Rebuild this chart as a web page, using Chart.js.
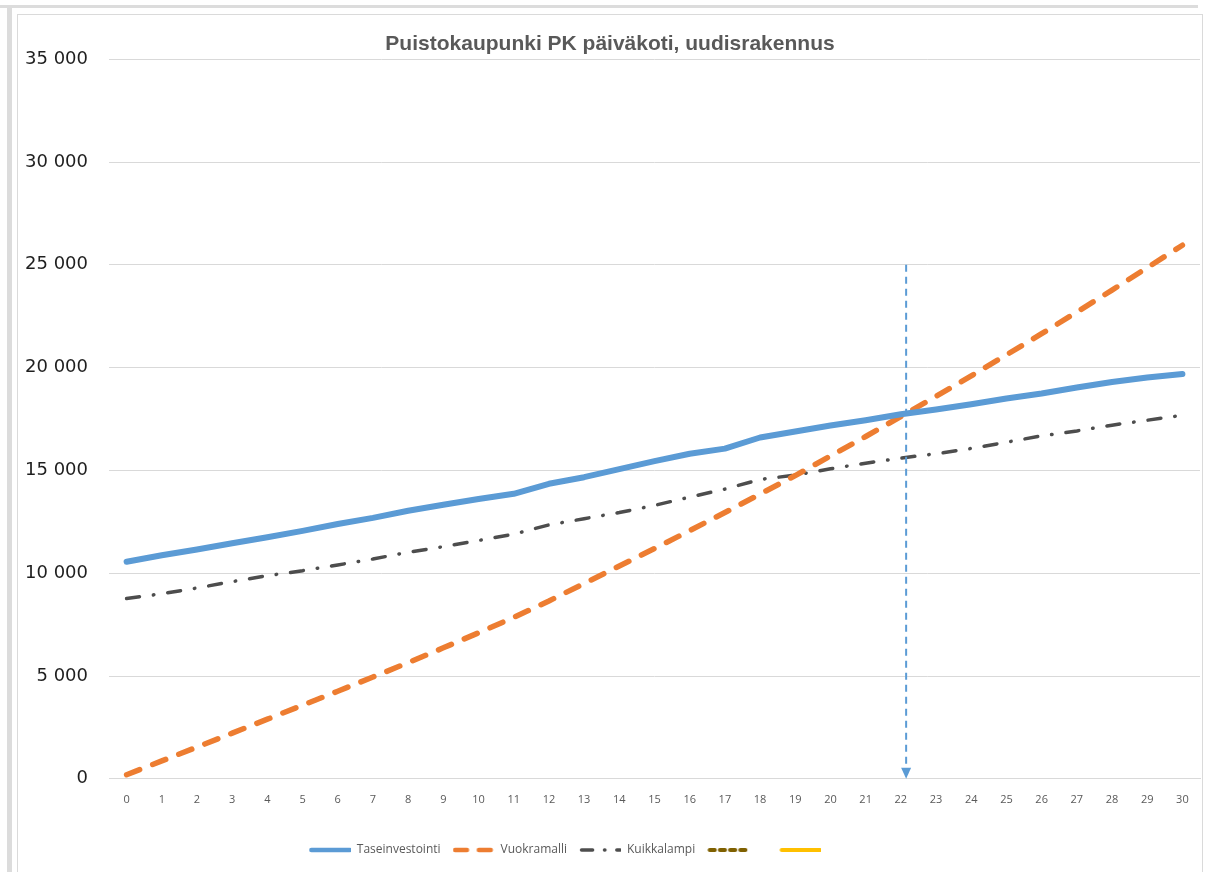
<!DOCTYPE html>
<html>
<head>
<meta charset="utf-8">
<script src="https://cdn.jsdelivr.net/npm/chart.js@4/dist/chart.umd.min.js"></script>
<style>
  body { margin: 0; background: #fff; }
  #wrap { position: relative; width: 1206px; height: 872px; overflow: hidden; }
  .band { position: absolute; background: #dcdcdc; }
  #frame { position: absolute; left: 17px; top: 14px; width: 1184px; height: 900px; border: 1px solid #dadada; }
  canvas { position: absolute; left: 0; top: 0; }
</style>
</head>
<body>
<div id="wrap">
  <div class="band" style="left:0;top:5px;width:1198px;height:3px"></div>
  <div class="band" style="left:7px;top:5px;width:5px;height:872px"></div>
  <div id="frame"></div>
  <canvas id="chart" width="1206" height="872"></canvas>
</div>
<script>
// years 0..30
const years = ['0','1','2','3','4','5','6','7','8','9','10','11','12','13','14','15','16','17','18','19','20','21','22','23','24','25','26','27','28','29','30'];

const taseinvestointi = [10560, 10870, 11150, 11460, 11750, 12060, 12390, 12690, 13040, 13330, 13610, 13860, 14350, 14670, 15060, 15450, 15810, 16060, 16600, 16890, 17180, 17440, 17730, 17960, 18220, 18500, 18740, 19030, 19300, 19520, 19690];
const vuokramalli = [200, 870, 1540, 2220, 2900, 3580, 4260, 4950, 5650, 6370, 7100, 7850, 8650, 9500, 10350, 11200, 12070, 12950, 13850, 14750, 15700, 16650, 17620, 18600, 19600, 20620, 21650, 22700, 23770, 24860, 25950];
const kuikkalampi = [8770, 9000, 9280, 9590, 9880, 10120, 10400, 10690, 11020, 11290, 11590, 11900, 12350, 12650, 12950, 13300, 13700, 14090, 14560, 14770, 15080, 15350, 15600, 15810, 16070, 16370, 16680, 16920, 17200, 17440, 17680];

const yTicks = [0, 5000, 10000, 15000, 20000, 25000, 30000, 35000];

// crossover marker (year, top value)
const markerYear = 22.15;
const markerTop = 25000;

function fmt(v) {
  return String(v).replace(/\B(?=(\d{3})+(?!\d))/g, ' ');
}

// small canvas used as the legend symbol, so the dash pattern shows
function legendIcon(color, width, dash) {
  const c = document.createElement('canvas');
  c.width = 42;
  c.height = 10;
  const g = c.getContext('2d');
  g.strokeStyle = color;
  g.lineWidth = width;
  g.lineCap = 'round';
  g.setLineDash(dash);
  g.beginPath();
  g.moveTo(2.5, 5);
  g.lineTo(41, 5);
  g.stroke();
  return c;
}

const markerPlugin = {
  id: 'marker',
  afterDatasetsDraw(chart) {
    const ctx = chart.ctx;
    const xs = chart.scales.x, ys = chart.scales.y;
    const x = xs.getPixelForValue(markerYear);
    const top = ys.getPixelForValue(markerTop);
    const bottom = ys.getPixelForValue(0);
    ctx.save();
    ctx.strokeStyle = '#5B9BD5';
    ctx.fillStyle = '#5B9BD5';
    ctx.lineWidth = 2;
    ctx.setLineDash([7, 5]);
    ctx.beginPath();
    ctx.moveTo(x, top);
    ctx.lineTo(x, bottom - 10);
    ctx.stroke();
    ctx.setLineDash([]);
    ctx.beginPath();
    ctx.moveTo(x - 5, bottom - 11);
    ctx.lineTo(x + 5, bottom - 11);
    ctx.lineTo(x, bottom);
    ctx.closePath();
    ctx.fill();
    ctx.restore();
  }
};

const ctx = document.getElementById('chart');
const chart = new Chart(ctx, {
  type: 'line',
  data: {
    labels: years,
    datasets: [
      { label: 'Taseinvestointi', data: taseinvestointi, borderColor: '#5B9BD5', borderWidth: 6, borderCapStyle: 'round', borderJoinStyle: 'round' },
      { label: 'Vuokramalli', data: vuokramalli, borderColor: '#ED7D31', borderWidth: 5.5, borderDash: [14, 14], borderCapStyle: 'round' },
      { label: 'Kuikkalampi', data: kuikkalampi, borderColor: '#4D4D4D', borderWidth: 3.5, borderDash: [13, 14, 0.5, 14], borderCapStyle: 'round' },
      { label: '\u2002\u2002', data: [], borderColor: '#7F6000', borderWidth: 4, borderDash: [6, 6], borderCapStyle: 'round' },
      { label: '\u2003\u2003\u2003\u2003\u2003\u2003\u2003', data: [], borderColor: '#FFC000', borderWidth: 4 }
    ]
  },
  options: {
    responsive: false,
    animation: false,
    elements: { point: { radius: 0, hoverRadius: 0 }, line: { tension: 0 } },
    layout: { padding: { left: 20, right: 6, top: 0, bottom: 6 } },
    plugins: {
      title: {
        display: true,
        text: 'Puistokaupunki PK päiväkoti, uudisrakennus',
        color: '#595959',
        font: { family: "'Liberation Sans', sans-serif", size: 21, weight: 'bold' },
        padding: { top: 32, bottom: 2 }
      },
      legend: {
        position: 'bottom',
        labels: {
          usePointStyle: true,
          pointStyleWidth: 42,
          boxWidth: 42,
          boxHeight: 12,
          padding: 12,
          color: '#595959',
          font: { family: "'Open Sans', sans-serif", size: 12 },
          generateLabels(chart) {
            const items = Chart.defaults.plugins.legend.labels.generateLabels(chart);
            items.forEach(item => {
              const ds = chart.data.datasets[item.datasetIndex];
              const w = Math.min(ds.borderWidth, 4.5);
              const dash = ds.borderDash ? ds.borderDash.map(d => d * 0.85) : [];
              item.pointStyle = legendIcon(ds.borderColor, w, dash);
            });
            return items;
          }
        }
      },
      tooltip: { enabled: false }
    },
    scales: {
      x: {
        offset: true,
        grid: { display: false },
        border: { display: true, color: '#d9d9d9' },
        afterFit(scale) { scale.height += 20; },
        ticks: { color: '#595959', padding: 6, maxRotation: 0, autoSkip: false, font: { family: "'Open Sans', sans-serif", size: 11 } }
      },
      y: {
        min: 0,
        max: 35000,
        afterBuildTicks(scale) { scale.ticks = yTicks.map(v => ({ value: v })); },
        afterFit(scale) { scale.width = 89; },
        grid: { color: '#d9d9d9', drawTicks: false },
        border: { display: false },
        ticks: { color: '#1f1f1f', padding: 21, font: { family: "'DejaVu Sans', sans-serif", size: 18 }, callback: v => fmt(v) }
      }
    }
  },
  plugins: [markerPlugin]
});
</script>
</body>
</html>
